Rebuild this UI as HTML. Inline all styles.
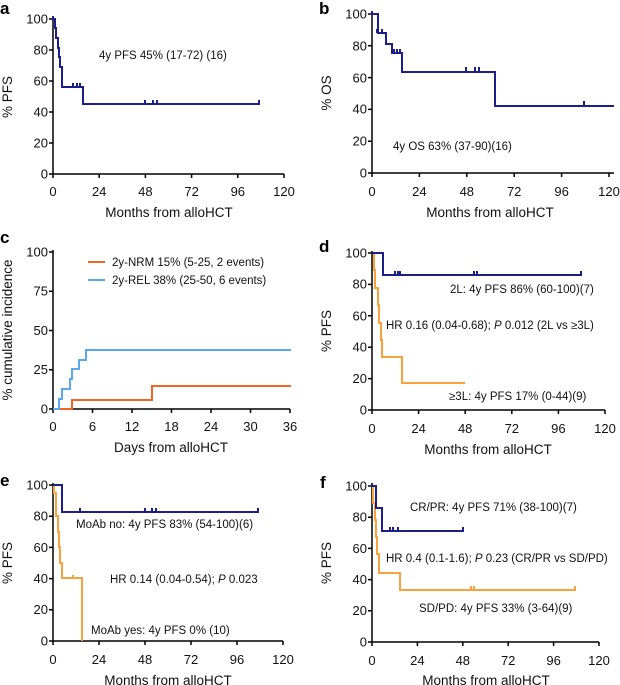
<!DOCTYPE html>
<html><head><meta charset="utf-8"><style>
html,body{margin:0;padding:0;background:#fff;}
svg{display:block;font-family:"Liberation Sans",Arial,sans-serif;}
.t{font-size:13px;fill:#111;}
.ax{font-size:13.5px;fill:#111;}
.ann{font-size:11.5px;fill:#111;}
.L{font-size:17px;font-weight:bold;fill:#000;}
.axis{stroke:#000;stroke-width:1.5;fill:none;}
.nv{stroke:#1c1f8a;stroke-width:2;fill:none;}
.or{stroke:#f9a13a;stroke-width:2;fill:none;}
.nrm{stroke:#f26522;stroke-width:2;fill:none;}
.rel{stroke:#5aa9f0;stroke-width:2;fill:none;}
</style></head><body>
<svg width="620" height="685" viewBox="0 0 620 685" xmlns="http://www.w3.org/2000/svg">

<!-- Panel a -->
<text class="L" x="0" y="14">a</text>
<path class="axis" d="M53,17 V174 H284 M49,19 H53 M49,50 H53 M49,81 H53 M49,112 H53 M49,143 H53 M49,174 H53 M53,174 V178 M99.2,174 V178 M145.4,174 V178 M191.6,174 V178 M237.8,174 V178 M284,174 V178"/>
<g class="t" text-anchor="end"><text x="48" y="23.5">100</text><text x="48" y="54.5">80</text><text x="48" y="85.5">60</text><text x="48" y="116.5">40</text><text x="48" y="147.5">20</text><text x="48" y="178.5">0</text></g>
<g class="t" text-anchor="middle"><text x="53" y="196">0</text><text x="99.2" y="196">24</text><text x="145.4" y="196">48</text><text x="191.6" y="196">72</text><text x="237.8" y="196">96</text><text x="284" y="196">120</text></g>
<text class="ax" x="169" y="217" text-anchor="middle">Months from alloHCT</text>
<text class="ax" transform="translate(12,97) rotate(-90)" text-anchor="middle">% PFS</text>
<path class="nv" d="M53,16 V19 H55 V28 H56 V38 H58 V48 H59 V57 H60 V67 H62 V87 H83 V104 H259 V100 M73,87 V83 M77,87 V83 M80,87 V83 M145,104 V100 M153,104 V100 M157,104 V100"/>
<text class="ann" x="99" y="59">4y PFS 45% (17-72) (16)</text>

<!-- Panel b -->
<text class="L" x="319" y="14">b</text>
<path class="axis" d="M372,12 V173 H614 M368,14 H372 M368,45.8 H372 M368,77.6 H372 M368,109.4 H372 M368,141.2 H372 M368,173 H372 M372,173 V177 M419.4,173 V177 M466.8,173 V177 M514.2,173 V177 M561.6,173 V177 M609,173 V177"/>
<g class="t" text-anchor="end"><text x="367" y="18.5">100</text><text x="367" y="50.5">80</text><text x="367" y="82.5">60</text><text x="367" y="113.5">40</text><text x="367" y="145.5">20</text><text x="367" y="177.5">0</text></g>
<g class="t" text-anchor="middle"><text x="372" y="196">0</text><text x="419.4" y="196">24</text><text x="466.8" y="196">48</text><text x="514.2" y="196">72</text><text x="561.6" y="196">96</text><text x="609" y="196">120</text></g>
<text class="ax" x="490" y="217" text-anchor="middle">Months from alloHCT</text>
<text class="ax" transform="translate(331,93) rotate(-90)" text-anchor="middle">% OS</text>
<path class="nv" d="M372,11 V14 H378 V33 H386 V44 H392 V53 H402 V72 H495 V106 H614 M377,33 V29 M382,33 V29 M394,53 V49 M397,53 V49 M400,53 V49 M466,72 V67 M475,72 V67 M479,72 V67 M584,106 V101"/>
<text class="ann" x="393" y="150">4y OS 63% (37-90)(16)</text>

<!-- Panel c -->
<text class="L" x="0" y="243">c</text>
<path class="axis" d="M53,250 V409 H290 M49,252 H53 M49,291.25 H53 M49,330.5 H53 M49,369.75 H53 M49,409 H53 M53,409 V413 M92.5,409 V413 M132,409 V413 M171.5,409 V413 M211,409 V413 M250.5,409 V413 M290,409 V413"/>
<g class="t" text-anchor="end"><text x="48" y="256.5">100</text><text x="48" y="295.5">75</text><text x="48" y="335">50</text><text x="48" y="374">25</text><text x="48" y="413.5">0</text></g>
<g class="t" text-anchor="middle"><text x="53" y="431">0</text><text x="92.5" y="431">6</text><text x="132" y="431">12</text><text x="171.5" y="431">18</text><text x="211" y="431">24</text><text x="250.5" y="431">30</text><text x="290" y="431">36</text></g>
<text class="ax" x="171" y="452" text-anchor="middle">Days from alloHCT</text>
<text class="ax" transform="translate(12,330) rotate(-90)" text-anchor="middle">% cumulative incidence</text>
<path class="nrm" d="M53,409 H72 V400 H152 V386 H291"/>
<path class="rel" d="M53,409 H59 V399 H62 V389 H70 V379 H72 V369 H79 V360 H86 V350 H291"/>
<path class="nrm" d="M88,262 H105"/>
<path class="rel" d="M88,280 H105"/>
<text class="ann" x="112" y="266">2y-NRM 15% (5-25, 2 events)</text>
<text class="ann" x="112" y="284">2y-REL 38% (25-50, 6 events)</text>

<!-- Panel d -->
<text class="L" x="319" y="252">d</text>
<path class="axis" d="M372,251 V410 H605 M368,253 H372 M368,284.4 H372 M368,315.8 H372 M368,347.2 H372 M368,378.6 H372 M368,410 H372 M372,410 V414 M418.6,410 V414 M465.2,410 V414 M511.8,410 V414 M558.4,410 V414 M605,410 V414"/>
<g class="t" text-anchor="end"><text x="367" y="257.5">100</text><text x="367" y="288.5">80</text><text x="367" y="320.5">60</text><text x="367" y="351.5">40</text><text x="367" y="383">20</text><text x="367" y="414.5">0</text></g>
<g class="t" text-anchor="middle"><text x="372" y="433">0</text><text x="418.6" y="433">24</text><text x="465.2" y="433">48</text><text x="511.8" y="433">72</text><text x="558.4" y="433">96</text><text x="605" y="433">120</text></g>
<text class="ax" x="488" y="454" text-anchor="middle">Months from alloHCT</text>
<text class="ax" transform="translate(331,331) rotate(-90)" text-anchor="middle">% PFS</text>
<path class="or" d="M372,253 H374 V270 H375 V288 H378 V305 H379 V323 H381 V340 H382 V357 H402 V383 H465"/>
<path class="nv" d="M372,253 H383 V275 H581 V271 M395,275 V271 M398,275 V271 M400,275 V271 M474,275 V271 M477,275 V271"/>
<text class="ann" x="450" y="293">2L: 4y PFS 86% (60-100)(7)</text>
<text class="ann" x="386" y="329">HR 0.16 (0.04-0.68); <tspan font-style="italic">P</tspan> 0.012 (2L vs ≥3L)</text>
<text class="ann" x="449" y="400">≥3L: 4y PFS 17% (0-44)(9)</text>

<!-- Panel e -->
<text class="L" x="0" y="486">e</text>
<path class="axis" d="M53,483 V641 H283 M49,485 H53 M49,516.2 H53 M49,547.4 H53 M49,578.6 H53 M49,609.8 H53 M49,641 H53 M53,641 V645 M99,641 V645 M145,641 V645 M191,641 V645 M237,641 V645 M283,641 V645"/>
<g class="t" text-anchor="end"><text x="48" y="489.5">100</text><text x="48" y="520.5">80</text><text x="48" y="552">60</text><text x="48" y="583">40</text><text x="48" y="614">20</text><text x="48" y="645.5">0</text></g>
<g class="t" text-anchor="middle"><text x="53" y="664">0</text><text x="99" y="664">24</text><text x="145" y="664">48</text><text x="191" y="664">72</text><text x="237" y="664">96</text><text x="283" y="664">120</text></g>
<text class="ax" x="168" y="685" text-anchor="middle">Months from alloHCT</text>
<text class="ax" transform="translate(12,563) rotate(-90)" text-anchor="middle">% PFS</text>
<path class="or" d="M53,485 H54 V493 H56 V516 H58 V532 H59 V547 H60 V563 H62 V578 H82 V641 M73,578 V575"/>
<path class="nv" d="M53,485 H62 V512 H258 V508 M80,512 V508 M145,512 V508 M152,512 V508 M156,512 V508"/>
<text class="ann" x="76" y="528">MoAb no: 4y PFS 83% (54-100)(6)</text>
<text class="ann" x="110" y="583">HR 0.14 (0.04-0.54); <tspan font-style="italic">P</tspan> 0.023</text>
<text class="ann" x="91" y="634">MoAb yes: 4y PFS 0% (10)</text>

<!-- Panel f -->
<text class="L" x="320" y="488">f</text>
<path class="axis" d="M372,484 V642 H599 M368,486 H372 M368,517.2 H372 M368,548.4 H372 M368,579.6 H372 M368,610.8 H372 M368,642 H372 M372,642 V646 M417.4,642 V646 M462.8,642 V646 M508.2,642 V646 M553.6,642 V646 M599,642 V646"/>
<g class="t" text-anchor="end"><text x="367" y="490.5">100</text><text x="367" y="521.5">80</text><text x="367" y="553">60</text><text x="367" y="584">40</text><text x="367" y="615">20</text><text x="367" y="646.5">0</text></g>
<g class="t" text-anchor="middle"><text x="372" y="665">0</text><text x="417.4" y="665">24</text><text x="462.8" y="665">48</text><text x="508.2" y="665">72</text><text x="553.6" y="665">96</text><text x="599" y="665">120</text></g>
<text class="ax" x="486" y="685" text-anchor="middle">Months from alloHCT</text>
<text class="ax" transform="translate(331,563) rotate(-90)" text-anchor="middle">% PFS</text>
<path class="or" d="M372,486 H373 V503 H375 V520 H376 V537 H377 V554 H379 V573 H400 V590 H575 V586 M471,590 V586 M474,590 V586"/>
<path class="nv" d="M372,483 V486 H376 V508 H382 V531 H463 V527 M390,531 V527 M393,531 V527 M398,531 V527"/>
<text class="ann" x="410" y="511">CR/PR: 4y PFS 71% (38-100)(7)</text>
<text class="ann" x="386" y="562">HR 0.4 (0.1-1.6); <tspan font-style="italic">P</tspan> 0.23 (CR/PR vs SD/PD)</text>
<text class="ann" x="419" y="612">SD/PD: 4y PFS 33% (3-64)(9)</text>
</svg>
</body></html>
